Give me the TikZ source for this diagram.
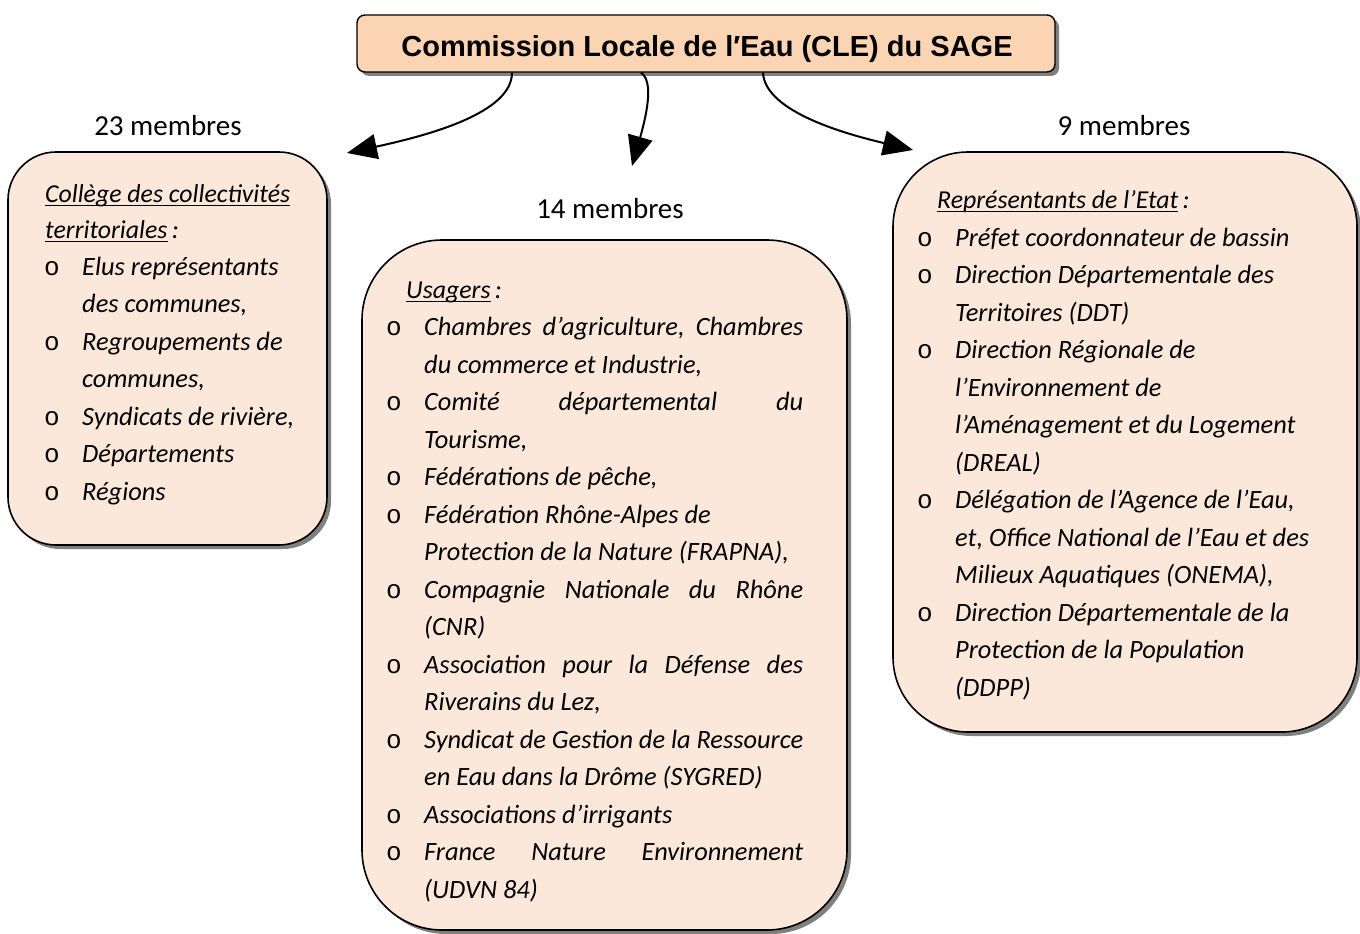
\documentclass[tikz,border=0pt]{standalone}
\usepackage{fontspec}
\setmainfont{Carlito}
\newfontfamily\titlefont{Liberation Sans}
\newfontfamily\bulfont{Liberation Mono}
\usetikzlibrary{arrows.meta,shadows,calc}
\definecolor{boxfill}{HTML}{FCE8DA}
\definecolor{titlefill}{HTML}{FBD4B4}
\newcommand\Tl[4]{\node[tx] (#1) at (#2,#3) {#4};}
\newcommand\Bu[3]{\node[bul] (#1) at (#2,#3) {o};}
\begin{document}
\begin{tikzpicture}[x=1pt,y=-1pt,
  cbox/.style={draw=black,line width=1.6pt,fill=boxfill,
    drop shadow={shadow xshift=4pt,shadow yshift=-4pt,fill=black!50,opacity=1}},
  tbox/.style={draw=black,line width=1.4pt,fill=titlefill,rounded corners=8pt,
    drop shadow={shadow xshift=4pt,shadow yshift=-4pt,fill=black!50,opacity=1}},
  ttext/.style={inner sep=0pt,font=\titlefont\bfseries\fontsize{29}{32}\selectfont},
  tx/.style={anchor=base west,inner sep=0pt,font=\itshape\fontsize{26.4}{30}\selectfont},
  hd/.style={anchor=base west,inner sep=0pt,font=\itshape\fontsize{25.8}{30}\selectfont},
  lab/.style={anchor=base,inner sep=0pt,font=\fontsize{29}{32}\selectfont},
  bul/.style={anchor=base,inner sep=0pt,font=\bulfont\fontsize{26}{30}\selectfont},
  ul/.style={line width=1.2pt},
  arr/.style={line width=2pt,-{Triangle[length=30pt,width=25pt]}}]
\useasboundingbox (0,0) rectangle (1360,934);
\clip (0,0) rectangle (1360,934);

% title
\node[tbox,minimum width=698pt,minimum height=57pt] (cle) at (706,43.5) {};
\node[ttext,anchor=base] (clet) at (707,57) {Commission Locale de l′Eau (CLE) du SAGE};

% boxes
\node[cbox,rounded corners=48pt,minimum width=319pt,minimum height=393pt] (g1) at (167.5,348.5) {};
\node[cbox,rounded corners=80pt,minimum width=485pt,minimum height=690pt] (g2) at (604.5,585) {};
\node[cbox,rounded corners=75pt,minimum width=464pt,minimum height=580pt] (g3) at (1125,442) {};

% labels
\node[lab] (m1) at (168,135) {23 membres};
\node[lab] (m2) at (610,218) {14 membres};
\node[lab] (m3) at (1124,135) {9 membres};

% arrows
\coordinate (e1) at (347,153);
\coordinate (e2) at (632,166);
\coordinate (e3) at (913,150);
\draw[arr] ([xshift=-194pt]cle.south) .. controls +(0,40) and (430,135) .. (e1);
\draw[arr] ([xshift=-65pt]cle.south) .. controls +(12,8) and (648,110) .. (e2);
\draw[arr] ([xshift=57pt]cle.south) .. controls +(2,40) and (850,135) .. (e3);

% left box text
\node[hd] (h1a) at (45,202) {Collège des collectivités};
\draw[ul] ([yshift=-3.5pt]h1a.base west) -- ([yshift=-3.5pt]h1a.base east);
\node[hd] (h1b) at (45,238) {territoriales};
\draw[ul] ([yshift=-3.5pt]h1b.base west) -- ([yshift=-3.5pt]h1b.base east);
\node[tx,anchor=base west] (h1c) at ([xshift=4pt]h1b.base east) {:};
\Bu{b11}{52}{275}\Tl{l11}{82}{275}{Elus représentants}
\Tl{l12}{82}{312.5}{des communes,}
\Bu{b12}{52}{350}\Tl{l13}{82}{350}{Regroupements de}
\Tl{l14}{82}{387.5}{communes,}
\Bu{b13}{52}{425}\Tl{l15}{82}{425}{Syndicats de rivière,}
\Bu{b14}{52}{462.5}\Tl{l16}{82}{462.5}{Départements}
\Bu{b15}{52}{500}\Tl{l17}{82}{500}{Régions}

% middle box text
\node[hd] (h2a) at (406,298) {Usagers};
\draw[ul] ([yshift=-3.5pt]h2a.base west) -- ([yshift=-3.5pt]h2a.base east);
\node[tx,anchor=base west] (h2c) at ([xshift=4pt]h2a.base east) {:};
\Bu{b21}{394}{335.5}\Tl{l21}{424}{335.5}{\hbox to 379pt{Chambres\hfill d’agriculture,\hfill Chambres}}
\Tl{l22}{424}{373}{du commerce et Industrie,}
\Bu{b22}{394}{410.5}\Tl{l23}{424}{410.5}{\hbox to 379pt{Comité\hfill départemental\hfill du}}
\Tl{l24}{424}{448}{Tourisme,}
\Bu{b23}{394}{485.5}\Tl{l25}{424}{485.5}{Fédérations de pêche,}
\Bu{b24}{394}{523}\Tl{l26}{424}{523}{Fédération Rhône-Alpes de}
\Tl{l27}{424}{560.5}{Protection de la Nature (FRAPNA),}
\Bu{b25}{394}{598}\Tl{l28}{424}{598}{\hbox to 379pt{Compagnie\hfill Nationale\hfill du\hfill Rhône}}
\Tl{l29}{424}{635.5}{(CNR)}
\Bu{b26}{394}{673}\Tl{l210}{424}{673}{\hbox to 379pt{Association\hfill pour\hfill la\hfill Défense\hfill des}}
\Tl{l211}{424}{710.5}{Riverains du Lez,}
\Bu{b27}{394}{748}\Tl{l212}{424}{748}{\hbox to 379pt{Syndicat\hfill de\hfill Gestion\hfill de\hfill la\hfill Ressource}}
\Tl{l213}{424}{785.5}{en Eau dans la Drôme (SYGRED)}
\Bu{b28}{394}{823}\Tl{l214}{424}{823}{Associations d’irrigants}
\Bu{b29}{394}{860.5}\Tl{l215}{424}{860.5}{\hbox to 379pt{France\hfill Nature\hfill Environnement}}
\Tl{l216}{424}{898}{(UDVN 84)}

% right box text
\node[hd] (h3a) at (937,208) {Représentants de l’Etat};
\draw[ul] ([yshift=-3.5pt]h3a.base west) -- ([yshift=-3.5pt]h3a.base east);
\node[tx,anchor=base west] (h3c) at ([xshift=4pt]h3a.base east) {:};
\Bu{b31}{925}{246}\Tl{l31}{955}{246}{Préfet coordonnateur de bassin}
\Bu{b32}{925}{283.5}\Tl{l32}{955}{283.5}{Direction Départementale des}
\Tl{l33}{955}{321}{Territoires (DDT)}
\Bu{b33}{925}{358.5}\Tl{l34}{955}{358.5}{Direction Régionale de}
\Tl{l35}{955}{396}{l’Environnement de}
\Tl{l36}{955}{433.5}{l’Aménagement et du Logement}
\Tl{l37}{955}{471}{(DREAL)}
\Bu{b34}{925}{508.5}\Tl{l38}{955}{508.5}{Délégation de l’Agence de l’Eau,}
\Tl{l39}{955}{546}{et, Office National de l’Eau et des}
\Tl{l310}{955}{583.5}{Milieux Aquatiques (ONEMA),}
\Bu{b35}{925}{621}\Tl{l311}{955}{621}{Direction Départementale de la}
\Tl{l312}{955}{658.5}{Protection de la Population}
\Tl{l313}{955}{696}{(DDPP)}
\end{tikzpicture}
\end{document}
